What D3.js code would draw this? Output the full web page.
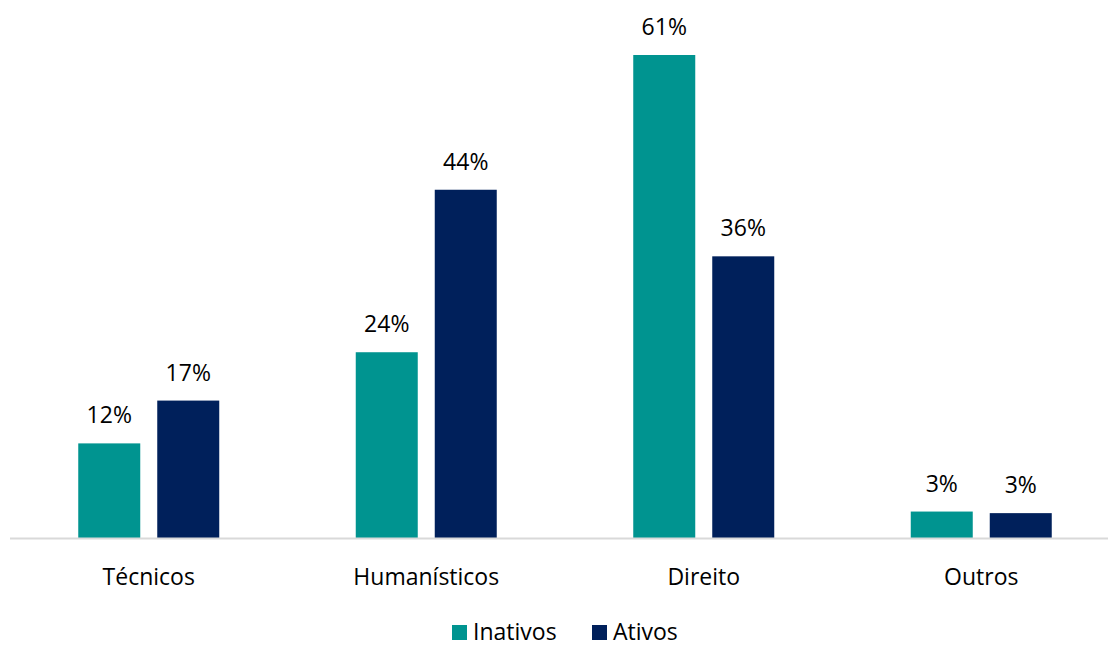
<!DOCTYPE html>
<meta charset="utf-8">
<style>
    body { margin: 0; background: #fff; }
    svg { display: block; }
    text { font-family: "Open Sans", Lato, sans-serif; fill: #000; }
</style>
<script src="https://cdn.jsdelivr.net/npm/d3@7"></script>
<body>
<svg></svg>
</body>
<script>
    var categories = ['Técnicos', 'Humanísticos', 'Direito', 'Outros'];
    var seriesNames = ['Inativos', 'Ativos'];
    var inativos = [12.0, 23.5, 61.0, 3.4];
    var ativos = [17.4, 44.0, 35.6, 3.2];
    var labelsInativos = ['12%', '24%', '61%', '3%'];
    var labelsAtivos = ['17%', '44%', '36%', '3%'];
    var colors = ['#009490', '#00205b'];

    var width = 1108, height = 646;
    var baseY = 538.5;
    var fs = '23px';

    var svg = d3.select('svg').attr('width', width).attr('height', height);

    var x = d3.scaleBand().domain(categories).range([10, 1120]);
    var y = d3.scaleLinear().domain([0, 61]).range([baseY, 55]);

    var rows = [];
    categories.forEach(function (c, i) {
        rows.push({cat: c, s: 0, v: inativos[i], label: labelsInativos[i]});
        rows.push({cat: c, s: 1, v: ativos[i], label: labelsAtivos[i]});
    });

    var barW = 62, gap = 17;
    function barX(d) {
        var center = x(d.cat) + x.bandwidth() / 2;
        return d.s === 0 ? center - gap / 2 - barW : center + gap / 2;
    }

    svg.append('g').selectAll('rect')
        .data(rows)
        .enter().append('rect')
        .attr('x', barX)
        .attr('y', function (d) { return y(d.v); })
        .attr('width', barW)
        .attr('height', function (d) { return baseY - y(d.v); })
        .attr('fill', function (d) { return colors[d.s]; });

    svg.append('g').selectAll('text')
        .data(rows)
        .enter().append('text')
        .attr('x', function (d) { return barX(d) + barW / 2; })
        .attr('y', function (d) { return y(d.v) - 20; })
        .attr('text-anchor', 'middle')
        .style('font-size', fs)
        .text(function (d) { return d.label; });

    // axis
    svg.append('line')
        .attr('x1', 10).attr('x2', width)
        .attr('y1', baseY).attr('y2', baseY)
        .attr('stroke', '#d9d9d9').attr('stroke-width', 2);

    svg.append('g').selectAll('text')
        .data(categories)
        .enter().append('text')
        .attr('x', function (d) { return x(d) + x.bandwidth() / 2; })
        .attr('y', 585)
        .attr('text-anchor', 'middle')
        .style('font-size', fs)
        .text(function (d) { return d; });

    // legend
    var legendX = [452, 592];
    var lg = svg.append('g').selectAll('g')
        .data(seriesNames)
        .enter().append('g')
        .attr('transform', function (d, i) { return 'translate(' + legendX[i] + ',625)'; });
    lg.append('rect').attr('width', 15).attr('height', 15).attr('fill', function (d, i) { return colors[i]; });
    lg.append('text').attr('x', 21).attr('y', 14.5).style('font-size', fs).text(function (d) { return d; });
</script>
</html>
